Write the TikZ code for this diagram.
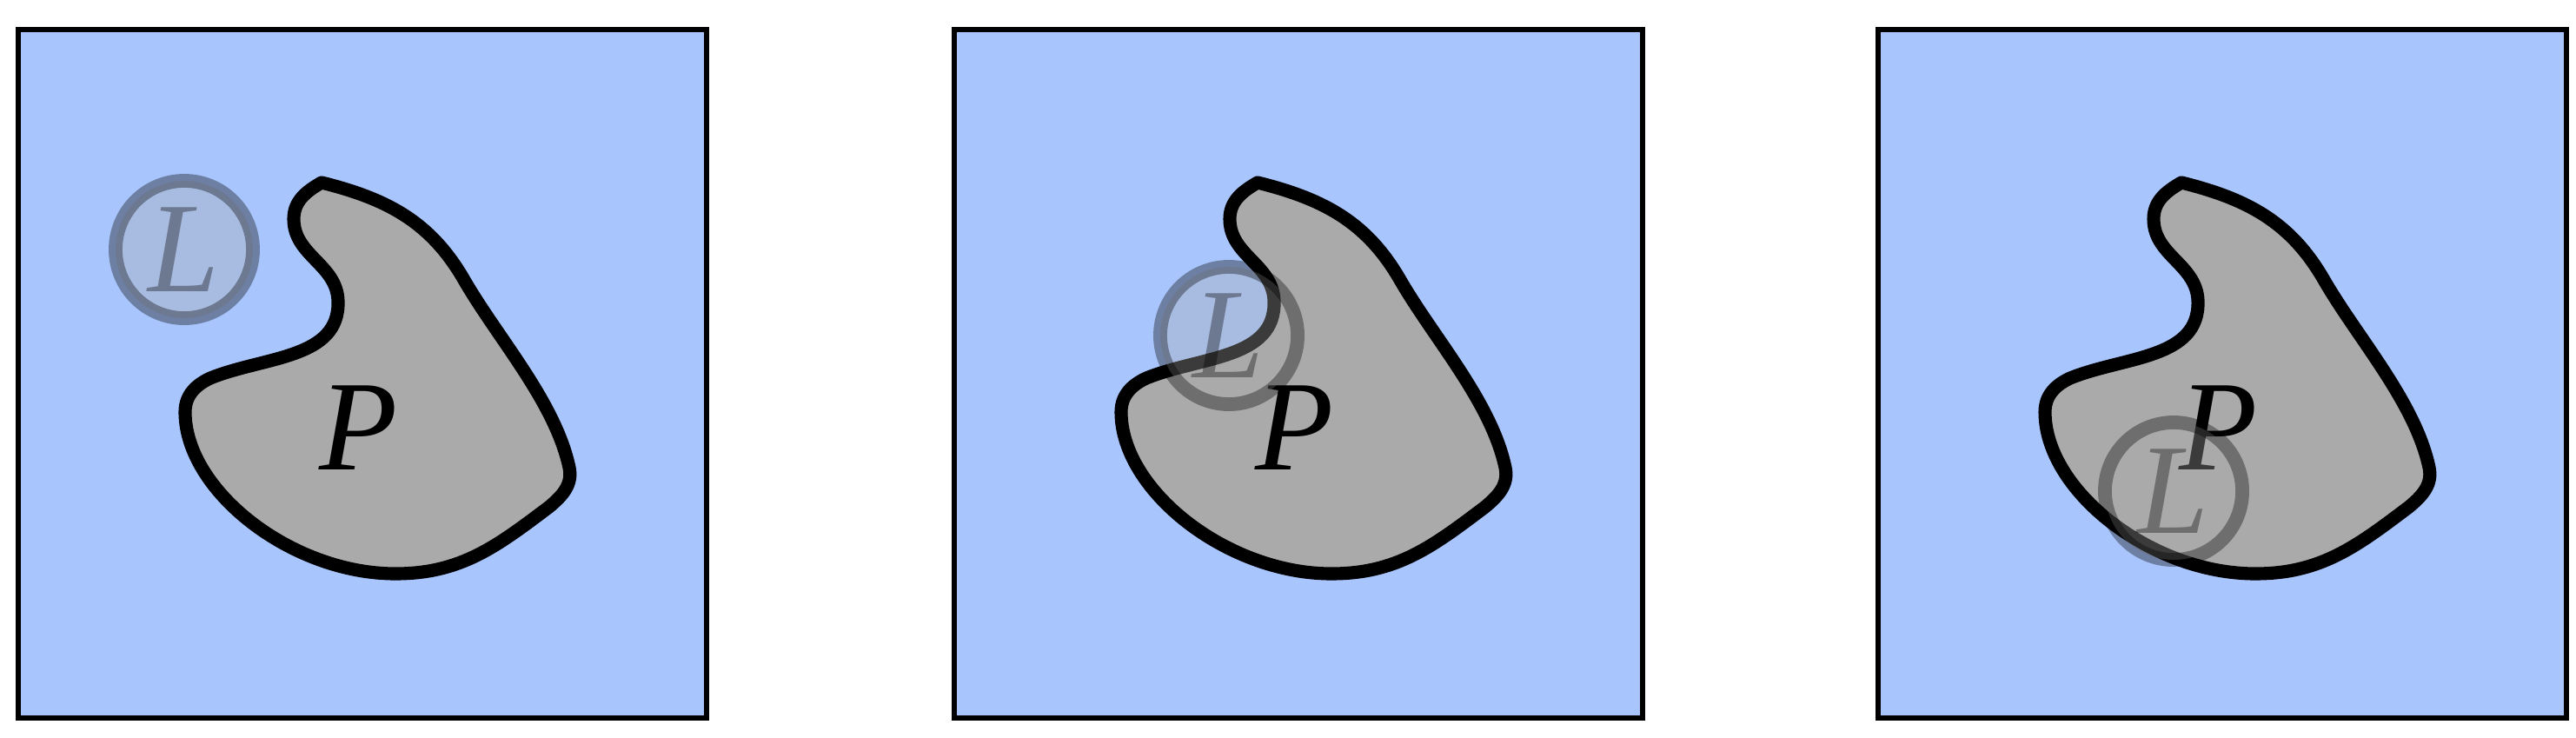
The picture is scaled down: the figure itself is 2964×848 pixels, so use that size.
\documentclass[tikz,border=0pt]{standalone}
\usepackage{fontspec}
\setmainfont{Liberation Serif}
\usepackage{xcolor}
\usetikzlibrary{positioning}
\definecolor{panelblue}{RGB}{168,197,253}
\definecolor{blobgray}{RGB}{170,170,170}
\tikzset{
  panelbox/.style={draw=black, line width=1.9pt, fill=panelblue},
  blobshape/.style={draw=black, line width=4.3pt, fill=blobgray, line join=round},
  setlabel/.style={font=\fontsize{42}{50}\selectfont\itshape, inner sep=0pt},
}

\begin{document}
\begin{tikzpicture}[
  x=0.01cm, y=-0.01cm,
  lens/.style={setlabel, circle, draw=black, fill=blobgray, line width=4.5pt,
    opacity=0.35, minimum size=1.58cm},
]
  \useasboundingbox (0,0) rectangle (2964,848);
  % one panel per position of the small set L
  \foreach \dx/\lx/\ly/\id in {0/212/287/a, 1077/337/386/b, 2140/361/565/c} {
    \begin{scope}[shift={(\dx,0)}]
      \draw[panelbox] (21,34) rectangle (813,826);
      \draw[blobshape] (370,210)
        to[out=-14, in=120] (534,322)
        to[out=-60, in=102, looseness=0.8] (655,538)
        to[out=-78, in=40] (632,583)
        to[out=-143, in=0] (455,660)
        .. controls (335,660) and (213,564) .. (213,474)
        to[out=90, in=-155] (242,435)
        to[out=22, in=-88] (389,346)
        to[out=92, in=-90] (338,252)
        to[out=90, in=-150] (370,210) -- cycle;
      \node[setlabel] (P\id) at (413,492) {P};
      \node[lens] (L\id) at (\lx,\ly) {L};
    \end{scope}
  }
\end{tikzpicture}
\end{document}
